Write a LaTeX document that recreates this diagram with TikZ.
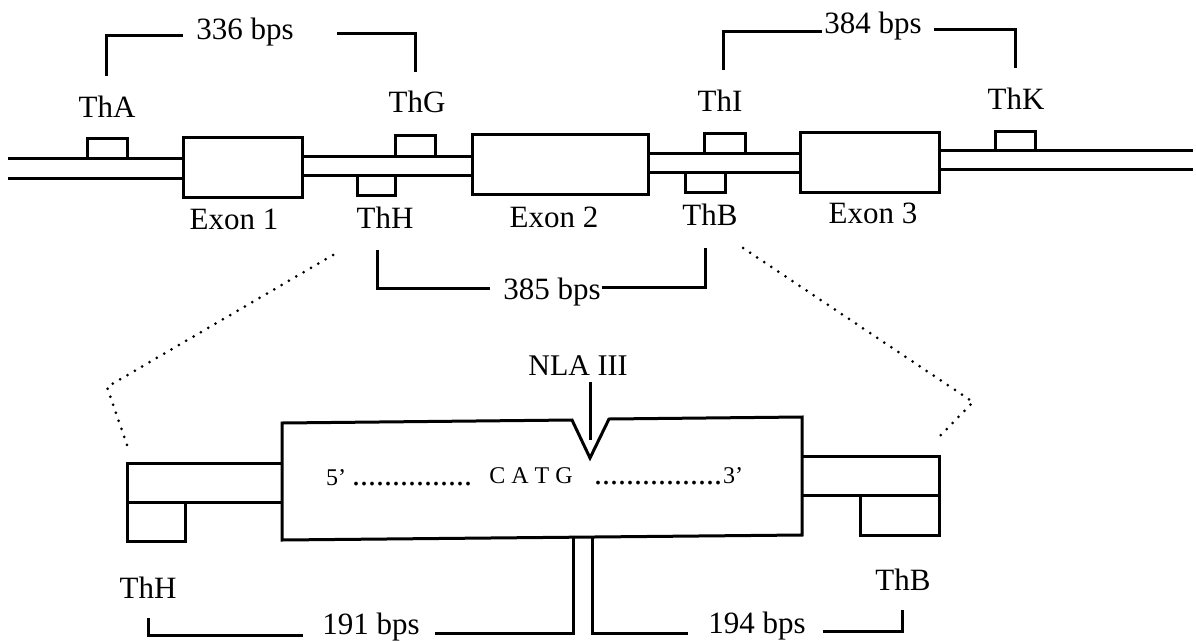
\documentclass[tikz,border=0pt]{standalone}
\usepackage{fontspec}
\setmainfont{Liberation Serif}
\begin{document}
\begin{tikzpicture}[x=1pt,y=-1pt,
  strand/.style={line width=3pt},
  boxst/.style={draw,line width=3pt,rectangle,inner sep=0pt,outer sep=0pt,anchor=north west},
  lbl/.style={font=\fontsize{31}{31}\selectfont,anchor=base,inner sep=0pt},
  nla/.style={font=\fontsize{30}{30}\selectfont,anchor=base,inner sep=0pt},
  seq/.style={font=\fontsize{24}{24}\selectfont,inner sep=0pt},
  seqdots/.style={font=\fontsize{32}{32}\selectfont,inner sep=0pt,anchor=base west},
  dotline/.style={line width=3pt,dash pattern=on 0pt off 8.5pt,line cap=round}]
\useasboundingbox (0,0) rectangle (1196,640);
% exon boxes
\node[boxst,minimum width=119pt,minimum height=60pt] (ex1) at (183,137) {};
\node[boxst,minimum width=176pt,minimum height=60pt] (ex2) at (472,134) {};
\node[boxst,minimum width=139pt,minimum height=60pt] (ex3) at (800,132) {};
% primer boxes
\node[boxst,minimum width=40pt,minimum height=20pt] (bThA) at (87,138) {};
\node[boxst,minimum width=40pt,minimum height=21pt] (bThG) at (395,135) {};
\node[boxst,minimum width=38pt,minimum height=20pt] (bThH) at (357,175) {};
\node[boxst,minimum width=41pt,minimum height=20pt] (bThI) at (704,133) {};
\node[boxst,minimum width=40pt,minimum height=20pt] (bThB) at (685,172) {};
\node[boxst,minimum width=40pt,minimum height=19pt] (bThK) at (995,131) {};
% strand
\coordinate (s1u) at (8,158);  \coordinate (s1l) at (8,178);
\coordinate (s2u) at (302,156); \coordinate (s2l) at (302,175);
\coordinate (s3u) at (648,153); \coordinate (s3l) at (648,172);
\coordinate (s4u) at (1193,150); \coordinate (s4l) at (1193,169);
\draw[strand] (s1u) -- (s1u -| ex1.west);
\draw[strand] (s1l) -- (s1l -| ex1.west);
\draw[strand] (s2u -| ex1.east) -- (s2u -| ex2.west);
\draw[strand] (s2l -| ex1.east) -- (s2l -| ex2.west);
\draw[strand] (s3u -| ex2.east) -- (s3u -| ex3.west);
\draw[strand] (s3l -| ex2.east) -- (s3l -| ex3.west);
\draw[strand] (s4u -| ex3.east) -- (s4u);
\draw[strand] (s4l -| ex3.east) -- (s4l);
% labels
\node[lbl] (lThA) at (107,117) {ThA};
\node[lbl] (lThG) at (417,112) {ThG};
\node[lbl] (lThI) at (720,111) {ThI};
\node[lbl] (lThK) at (1016,109) {ThK};
\node[lbl] (lEx1) at (234,229) {Exon 1};
\node[lbl] (lThH) at (385,228) {ThH};
\node[lbl] (lEx2) at (554,227) {Exon 2};
\node[lbl] (lThB) at (710,225) {ThB};
\node[lbl] (lEx3) at (873,223) {Exon 3};
\node[lbl] (l336) at (245,39) {336 bps};
\node[lbl] (l384) at (873,33) {384 bps};
\node[lbl] (l385) at (552,299) {385 bps};
\node[lbl] (l191) at (371,634) {191 bps};
\node[lbl] (l194) at (757,633) {194 bps};
\node[lbl] (lThH2) at (148,598) {ThH};
\node[lbl] (lThB2) at (903,590) {ThB};
\node[nla] (lNLA) at (578,375) {NLA III};
% brackets
\draw[strand] (106,76) |- (183,35);
\draw[strand] (337,33) -| (415,72);
\draw[strand] (723,70) |- (822,31);
\draw[strand] (934,29) -| (1015,68);
\draw[strand] (377,250) |- (490,288);
\draw[strand] (602,287) -| (705,248);
% zoomed fragment
\draw[strand] (282,423) -- (572,420) -- (590,458) -- (609,419) -- (802,417) -- (802,535) -- (282,540) -- cycle;
\draw[strand] (282,463) -- (127,463) -- (127,541) -- (185,541) -- (185,502);
\draw[strand] (127,502) -- (282,502);
\draw[strand] (802,456) -- (939,456) -- (939,535) -- (860,535) -- (860,495);
\draw[strand] (802,495) -- (939,495);
\draw[strand] (590,382) -- (590,440);
% lower brackets
\draw[strand] (148,618) |- (303,635);
\draw[strand] (435,633) -| (573,538);
\draw[strand] (592,538) |- (688,633);
\draw[strand] (823,631) -| (902,610);
% sequence
\node[seq,anchor=base west] (s5) at (326,485) {5’};
\node[seqdots] (d1) at (352,485) {...............};
\node[seq,anchor=base] (catg) at (531,483) {C A T G};
\node[seqdots] (d2) at (594,484) {................};
\node[seq,anchor=base west] (s3) at (723,483) {3’};
% dotted zoom lines
\draw[dotline] (333,255) -- (107,387) -- (127,445);
\draw[dotline] (743,248) -- (973,402) -- (939,437);
\end{tikzpicture}
\end{document}
